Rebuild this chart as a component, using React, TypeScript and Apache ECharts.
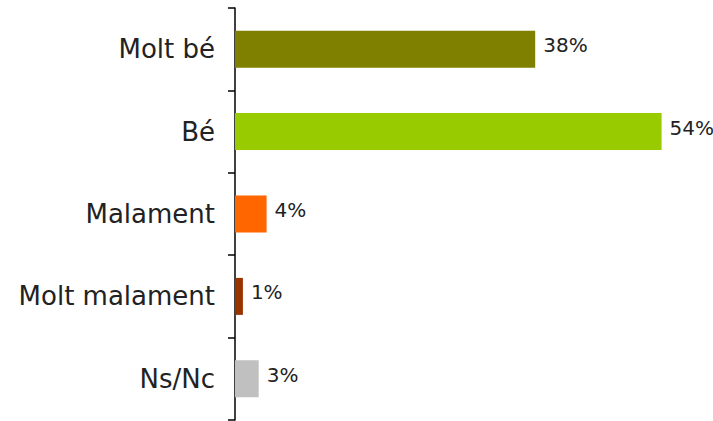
import React, { useEffect, useRef } from "react";
import * as echarts from "echarts";

const categories = ["Molt bé", "Bé", "Malament", "Molt malament", "Ns/Nc"];
const values = [38, 54, 4, 1, 3];
const colors = ["#808000", "#99CC00", "#FF6600", "#993300", "#C0C0C0"];

export default function App() {
  const ref = useRef<HTMLDivElement>(null);
  useEffect(() => {
    document.body.style.margin = "0";
    const chart = echarts.init(ref.current!, null, { renderer: "svg" });
    chart.setOption({
      animation: false,
      grid: { left: 235, right: 4, top: 8, bottom: 1, containLabel: false },
      xAxis: {
        type: "value",
        min: 0,
        max: 60,
        show: false,
      },
      yAxis: {
        type: "category",
        data: categories,
        inverse: true,
        axisLine: { show: true, lineStyle: { color: "#000", width: 1.5 } },
        axisTick: { show: true, length: 7, lineStyle: { color: "#000", width: 1.5 } },
        axisLabel: {
          margin: 20,
          fontSize: 26,
          color: "#222",
          fontFamily: "DejaVu Sans",
        },
        splitLine: { show: false },
      },
      series: [
        {
          type: "bar",
          barWidth: 37,
          data: values.map((v, i) => ({ value: v, itemStyle: { color: colors[i] } })),
          label: {
            show: true,
            position: "right",
            distance: 8,
            formatter: "{c}%",
            fontSize: 20,
            color: "#222",
            fontFamily: "DejaVu Sans",
            offset: [0, -4],
          },
        },
      ],
    });
    return () => chart.dispose();
  }, []);
  return <div ref={ref} style={{ width: 713, height: 421 }} />;
}
